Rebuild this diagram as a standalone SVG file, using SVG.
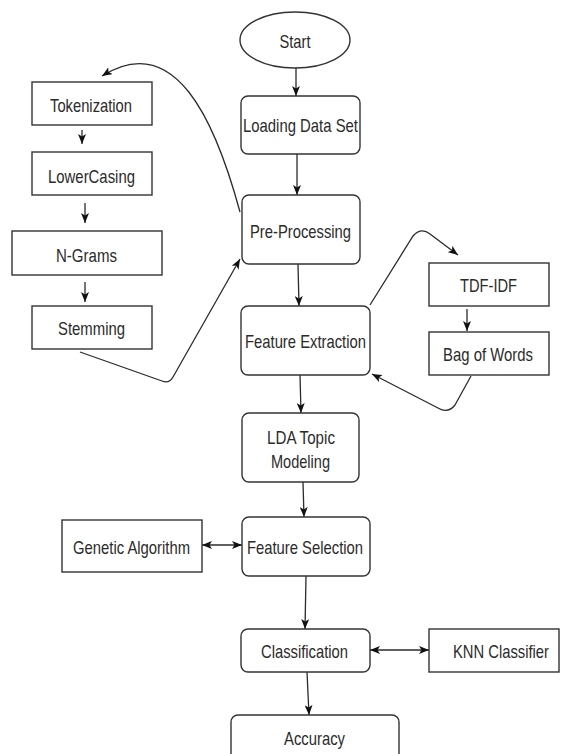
<svg xmlns="http://www.w3.org/2000/svg" width="561" height="754" viewBox="0 0 561 754">
<defs>
<style>
.box{fill:#fff;stroke:#333;stroke-width:1.4}
.t{font-family:"Liberation Sans",Arial,sans-serif;font-size:19px;fill:#2b2b2b;text-anchor:middle}
.c{fill:none;stroke:#2b2b2b;stroke-width:1.3}
</style>
<marker id="ah" viewBox="0 0 10 8" refX="10" refY="4" markerWidth="10" markerHeight="8" markerUnits="userSpaceOnUse" orient="auto">
<path d="M0,0 L10,4 L0,8 L2.5,4 z" fill="#111"/>
</marker>
<marker id="as" viewBox="0 0 10 8" refX="0" refY="4" markerWidth="10" markerHeight="8" markerUnits="userSpaceOnUse" orient="auto">
<path d="M10,0 L0,4 L10,8 L7.5,4 z" fill="#111"/>
</marker>
</defs>
<rect width="561" height="754" fill="#fff"/>
<g id="connectors">
<path class="c" d="M296,56 L296,96" marker-end="url(#ah)"/>
<path class="c" d="M297,154 L297,195" marker-end="url(#ah)"/>
<path class="c" d="M298,264 L299,306" marker-end="url(#ah)"/>
<path class="c" d="M300,375 L301,413" marker-end="url(#ah)"/>
<path class="c" d="M303,482 L304,517" marker-end="url(#ah)"/>
<path class="c" d="M306,576 L305,629" marker-end="url(#ah)"/>
<path class="c" d="M307,672 L309,715" marker-end="url(#ah)"/>
<path class="c" d="M202,545 L242,545" marker-start="url(#as)" marker-end="url(#ah)"/>
<path class="c" d="M370,650 L429,650" marker-start="url(#as)" marker-end="url(#ah)"/>
<path class="c" d="M82,130 L82,144" marker-end="url(#ah)"/>
<path class="c" d="M85,203 L85,223" marker-end="url(#ah)"/>
<path class="c" d="M85,282 L85,302" marker-end="url(#ah)"/>
<path class="c" d="M467,309 L467,331" marker-end="url(#ah)"/>
<path class="c" d="M240,212 C215,120 175,30 102,76" marker-end="url(#ah)"/>
<path class="c" d="M80,352 L162,381 Q169,384 173,377 L240,259" marker-end="url(#ah)"/>
<path class="c" d="M370,305 L413,236 Q421,227 430,234 L458,255" marker-end="url(#ah)"/>
<path class="c" d="M471,376 L455,405 Q448,414 438,408 L372,374" marker-end="url(#ah)"/>
</g>
<g id="start">
<ellipse class="box" cx="295" cy="40" rx="55" ry="28"/>
<text class="t" x="295" y="48" textLength="31" lengthAdjust="spacingAndGlyphs">Start</text>
</g>
<g id="loading">
<rect class="box" x="241" y="96" width="119" height="58" rx="7"/>
<text class="t" x="300.5" y="132" textLength="115" lengthAdjust="spacingAndGlyphs">Loading Data Set</text>
</g>
<g id="preprocessing">
<rect class="box" x="242" y="195" width="118" height="69" rx="7"/>
<text class="t" x="300.5" y="237.5" textLength="101" lengthAdjust="spacingAndGlyphs">Pre-Processing</text>
</g>
<g id="tokenization">
<rect class="box" x="32" y="82" width="120" height="43"/>
<text class="t" x="91" y="111.5" textLength="82" lengthAdjust="spacingAndGlyphs">Tokenization</text>
</g>
<g id="lowercasing">
<rect class="box" x="32" y="152" width="120" height="43"/>
<text class="t" x="91.5" y="182.5" textLength="87" lengthAdjust="spacingAndGlyphs">LowerCasing</text>
</g>
<g id="ngrams">
<rect class="box" x="12" y="231" width="150" height="44"/>
<text class="t" x="86.5" y="261.5" textLength="61" lengthAdjust="spacingAndGlyphs">N-Grams</text>
</g>
<g id="stemming">
<rect class="box" x="32" y="306" width="120" height="43"/>
<text class="t" x="91.5" y="335" textLength="67" lengthAdjust="spacingAndGlyphs">Stemming</text>
</g>
<g id="featureextraction">
<rect class="box" x="241" y="306" width="129" height="69" rx="7"/>
<text class="t" x="305.5" y="348" textLength="121" lengthAdjust="spacingAndGlyphs">Feature Extraction</text>
</g>
<g id="tdfidf">
<rect class="box" x="429" y="263" width="120" height="43"/>
<text class="t" x="488.5" y="292" textLength="57" lengthAdjust="spacingAndGlyphs">TDF-IDF</text>
</g>
<g id="bagofwords">
<rect class="box" x="429" y="332" width="120" height="43"/>
<text class="t" x="488" y="361" textLength="90" lengthAdjust="spacingAndGlyphs">Bag of Words</text>
</g>
<g id="lda">
<rect class="box" x="242" y="413" width="117" height="69" rx="7"/>
<text class="t" x="301" y="444" textLength="68" lengthAdjust="spacingAndGlyphs">LDA Topic</text>
<text class="t" x="300.5" y="467.5" textLength="59" lengthAdjust="spacingAndGlyphs">Modeling</text>
</g>
<g id="genetic">
<rect class="box" x="62" y="520" width="140" height="52"/>
<text class="t" x="131.5" y="553.5" textLength="117" lengthAdjust="spacingAndGlyphs">Genetic Algorithm</text>
</g>
<g id="featureselection">
<rect class="box" x="242" y="517" width="128" height="59" rx="7"/>
<text class="t" x="305" y="553.5" textLength="116" lengthAdjust="spacingAndGlyphs">Feature Selection</text>
</g>
<g id="classification">
<rect class="box" x="241" y="629" width="129" height="43" rx="7"/>
<text class="t" x="304.5" y="658" textLength="87" lengthAdjust="spacingAndGlyphs">Classification</text>
</g>
<g id="knn">
<rect class="box" x="429" y="629" width="130" height="43"/>
<text class="t" x="501" y="658" textLength="96" lengthAdjust="spacingAndGlyphs">KNN Classifier</text>
</g>
<g id="accuracy">
<rect class="box" x="231" y="715" width="168" height="60" rx="7"/>
<text class="t" x="314.5" y="744.5" textLength="61" lengthAdjust="spacingAndGlyphs">Accuracy</text>
</g>
</svg>
